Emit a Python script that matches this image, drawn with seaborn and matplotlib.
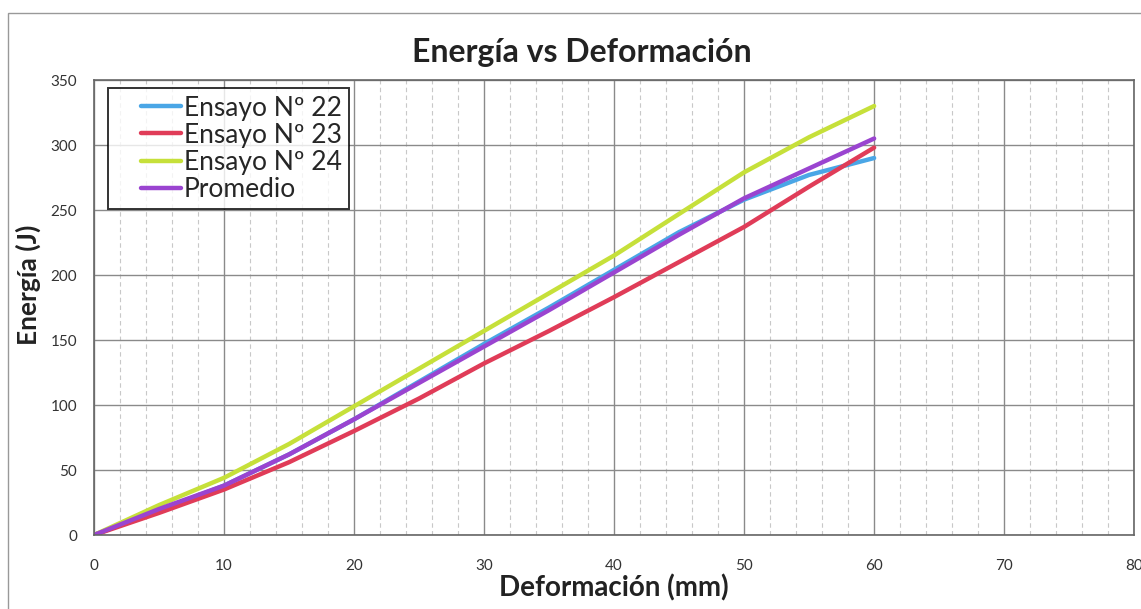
import numpy as np
import pandas as pd
import matplotlib.pyplot as plt
import seaborn as sns
from matplotlib.patches import Rectangle

# datos (deformacion en mm, energia en J)
deformacion = [0, 5, 10, 15, 20, 25, 30, 35, 40, 45, 50, 55, 60]
ensayo_22 = [0, 19, 38, 62, 89, 118, 147, 175, 204, 233, 258, 277, 290]
ensayo_23 = [0, 17, 35, 56, 80, 105, 132, 157, 183, 210, 237, 268, 298]
ensayo_24 = [0, 23, 44, 70, 99, 128, 157, 186, 215, 247, 279, 306, 330]
promedio = [0, 20, 38, 62, 89, 117, 145, 173, 202, 231, 259, 282, 305]

series = ["Ensayo Nº 22", "Ensayo Nº 23", "Ensayo Nº 24", "Promedio"]
colores = ["#4aa6e6", "#e03c58", "#c6e03a", "#9a44d0"]

df = pd.DataFrame({
    "Deformacion": deformacion * 4,
    "Energia": ensayo_22 + ensayo_23 + ensayo_24 + promedio,
    "Serie": [s for s in series for _ in deformacion],
})

sns.set_style("white")
plt.rcParams["font.family"] = ["Lato", "DejaVu Sans"]

fig = plt.figure(figsize=(11.41, 6.09), dpi=100)
ax = fig.add_axes([0.0824, 0.1215, 0.9116, 0.7471])

sns.lineplot(data=df, x="Deformacion", y="Energia", hue="Serie",
             palette=colores, linewidth=3.2, ax=ax)

ax.set_xlim(0, 80)
ax.set_ylim(0, 350)
ax.set_xticks(range(0, 81, 10))
ax.set_xticks(range(0, 81, 2), minor=True)
ax.set_yticks(range(0, 351, 50))
ax.grid(which="major", color="#8a8a8a", linewidth=1.0)
ax.grid(which="minor", axis="x", color="#c8c8c8", linewidth=0.8, linestyle=(0, (4, 3)))
ax.tick_params(which="both", length=0, labelsize=11, colors="#333333")
ax.tick_params(axis="x", pad=17)
ax.tick_params(axis="y", pad=12)
for lado in ["left", "bottom", "top", "right"]:
    ax.spines[lado].set_color("#666666")
    ax.spines[lado].set_linewidth(1.2)

fig.text(0.51, 0.913, "Energía vs Deformación", fontsize=23, fontweight="bold",
         ha="center", va="center", color="#222222")
ax.set_xlabel("Deformación (mm)", fontsize=20, fontweight="bold", labelpad=1, color="#222222")
ax.set_ylabel("Energía (J)", fontsize=19, fontweight="bold", color="#222222")
ax.yaxis.set_label_coords(-0.051, 0.55)

leg = ax.legend(loc="upper left", bbox_to_anchor=(0.013, 0.982), fontsize=19,
                frameon=True, fancybox=False, handlelength=2.5, handletextpad=0.1,
                labelspacing=0.08, borderpad=0.28, borderaxespad=0)
leg.get_frame().set_edgecolor("black")
leg.get_frame().set_linewidth(1.4)
# lineas cortas pegadas al texto, como en Excel
for linea in leg.get_lines():
    xs = np.asarray(linea.get_xdata(), dtype=float)
    ys = np.asarray(linea.get_ydata(), dtype=float)
    x0, x1 = xs.min(), xs.max()
    linea.set_data([x1 - 0.6 * (x1 - x0), x1], [ys[0], ys[0]])

# marco exterior del area del grafico
fig.patches.append(Rectangle((0.007, -0.1), 1.2, 1.079, transform=fig.transFigure,
                             fill=False, edgecolor="#999999", linewidth=1))

fig.savefig("out.png", dpi=100)
